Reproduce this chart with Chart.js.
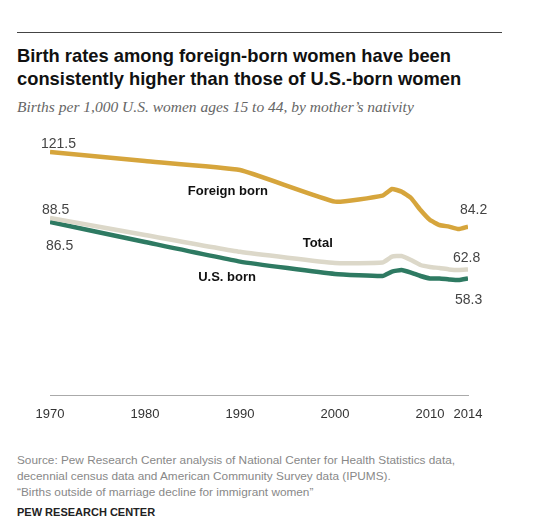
<!DOCTYPE html>
<html>
<head>
<meta charset="utf-8">
<script src="https://cdn.jsdelivr.net/npm/chart.js@4"></script>
<style>
  body { margin: 0; width: 540px; height: 524px; background: #fff; font-family: "Liberation Sans", Arial, sans-serif; position: relative; overflow: hidden; }
  .rule { position: absolute; left: 17px; top: 32px; width: 485px; height: 0; border-top: 1px solid #444; }
  .title { position: absolute; left: 17px; top: 44px; font: bold 19px "Liberation Sans", Arial, sans-serif; color: #111; line-height: 23px; transform: scaleX(0.965); transform-origin: 0 0; white-space: nowrap; }
  .subtitle { position: absolute; left: 17px; top: 98px; font: italic 15.5px "Liberation Serif", serif; color: #666; }
  .source { position: absolute; left: 17px; top: 452px; font: 11.8px "Liberation Sans", Arial, sans-serif; color: #888; line-height: 16px; }
  .credit { position: absolute; left: 17px; top: 506px; font: bold 11px "Liberation Sans", Arial, sans-serif; color: #222; }
  #wrap { position: absolute; left: 0; top: 120px; width: 540px; height: 310px; }
</style>
</head>
<body>
<div class="rule"></div>
<div class="title">Birth rates among foreign-born women have been<br>consistently higher than those of U.S.-born women</div>
<div class="subtitle">Births per 1,000 U.S. women ages 15 to 44, by mother’s nativity</div>
<div id="wrap"><canvas id="chart"></canvas></div>
<div class="source">Source: Pew Research Center analysis of National Center for Health Statistics data,<br>decennial census data and American Community Survey data (IPUMS).<br>“Births outside of marriage decline for immigrant women”</div>
<div class="credit">PEW RESEARCH CENTER</div>
<script>
const years = [1970, 1980, 1990, 2000, 2005, 2006, 2007, 2008, 2009, 2010, 2011, 2012, 2013, 2014];
const foreignBorn = [121.5, 117.0, 112.5, 96.7, 99.7, 103.0, 101.7, 98.5, 92.5, 87.5, 85.0, 84.2, 83.0, 84.2];
const total = [88.5, 80.0, 71.6, 66.0, 66.2, 69.2, 69.5, 67.5, 65.0, 64.0, 63.5, 62.8, 62.5, 62.8];
const usBorn = [86.5, 76.5, 66.7, 60.5, 59.5, 61.7, 62.5, 61.2, 59.5, 58.3, 58.2, 57.8, 57.5, 58.3];
const tickYears = [1970, 1980, 1990, 2000, 2010, 2014];

const gold = '#d6a53c';
const beige = '#dcd8c9';
const green = '#2e7a62';

function pts(vals) {
    return years.map((y, i) => ({ x: y, y: vals[i] }));
}

// value labels at first/last points, series names beside the lines
const labelPlugin = {
    id: 'labels',
    afterDatasetsDraw(chart) {
        const c = chart.ctx;
        const xs = chart.scales.x, ys = chart.scales.y;
        const last = years.length - 1;
        c.save();
        c.textBaseline = 'middle';
        c.textAlign = 'left';
        c.fillStyle = '#444';
        c.font = '14px "Liberation Sans", Arial, sans-serif';
        const nums = [
            [years[0], foreignBorn[0], -9, -8],
            [years[0], total[0], -8, -8],
            [years[0], usBorn[0], -4, 24],
            [years[last], foreignBorn[last], -8, -16],
            [years[last], total[last], -15, -11],
            [years[last], usBorn[last], -13, 22]
        ];
        nums.forEach(n => {
            c.fillText(n[1].toFixed(1), xs.getPixelForValue(n[0]) + n[2], ys.getPixelForValue(n[1]) + n[3]);
        });
        c.font = 'bold 13px "Liberation Sans", Arial, sans-serif';
        c.fillStyle = '#111';
        c.fillText('Foreign born', xs.getPixelForValue(1984.5), ys.getPixelForValue(102));
        c.fillText('Total', xs.getPixelForValue(1996.6), ys.getPixelForValue(76));
        c.fillText('U.S. born', xs.getPixelForValue(1985.6), ys.getPixelForValue(59));
        c.restore();
    }
};

new Chart(document.getElementById('chart'), {
    type: 'line',
    data: {
        datasets: [
            { label: 'Foreign born', data: pts(foreignBorn), borderColor: gold, borderWidth: 4.5, pointRadius: 0, tension: 0.12 },
            { label: 'Total', data: pts(total), borderColor: beige, borderWidth: 4.5, pointRadius: 0, tension: 0.12 },
            { label: 'U.S. born', data: pts(usBorn), borderColor: green, borderWidth: 4.5, pointRadius: 0, tension: 0.12 }
        ]
    },
    options: {
        responsive: true,
        maintainAspectRatio: false,
        animation: false,
        layout: { padding: { left: 50, right: 72, top: 15, bottom: 5 } },
        plugins: { legend: { display: false }, tooltip: { enabled: false } },
        scales: {
            x: {
                type: 'linear',
                min: 1970,
                max: 2014,
                grid: { display: false },
                border: { color: '#aaa', width: 1 },
                afterBuildTicks(scale) { scale.ticks = tickYears.map(v => ({ value: v })); },
                afterFit(scale) { scale.height = 30; },
                ticks: {
                    autoSkip: false,
                    maxRotation: 0,
                    padding: 4,
                    color: '#333',
                    font: { family: '"Liberation Sans", Arial, sans-serif', size: 13 },
                    callback: v => String(v)
                }
            },
            y: {
                display: false,
                min: 0,
                max: 130
            }
        }
    },
    plugins: [labelPlugin]
});
</script>
</body>
</html>
